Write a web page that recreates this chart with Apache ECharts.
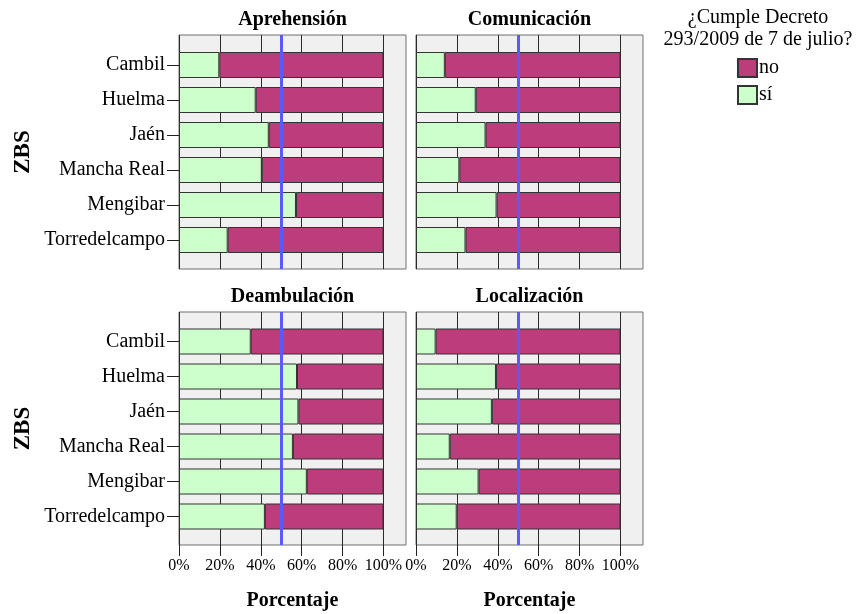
<!DOCTYPE html>
<html><head><meta charset="utf-8">
<script src="https://cdn.jsdelivr.net/npm/echarts@6/dist/echarts.min.js"></script>
<style>html,body{margin:0;padding:0;background:#fff}#c{width:862px;height:614px}</style>
</head><body><div id="c"></div>
<script>
// ---- data ----
const zbs = ['Cambil', 'Huelma', 'Jaén', 'Mancha Real', 'Mengibar', 'Torredelcampo'];
const panelTitles = ['Aprehensión', 'Comunicación', 'Deambulación', 'Localización'];
const siAprehension  = [19.7, 37.5, 43.9, 40.5, 57.2, 23.8];
const noAprehension  = [80.3, 62.5, 56.1, 59.5, 42.8, 76.2];
const siComunicacion = [14.1, 29.2, 34.0, 21.2, 39.4, 24.2];
const noComunicacion = [85.9, 70.8, 66.0, 78.8, 60.6, 75.8];
const siDeambulacion = [35.1, 57.7, 58.4, 55.7, 62.5, 42.0];
const noDeambulacion = [64.9, 42.3, 41.6, 44.3, 37.5, 58.0];
const siLocalizacion = [9.6, 39.1, 37.1, 16.5, 30.6, 19.9];
const noLocalizacion = [90.4, 60.9, 62.9, 83.5, 69.4, 80.1];
const xTickValues = [0, 20, 40, 60, 80, 100];
const threshold = 50;
const legendTitle = '¿Cumple Decreto\n293/2009 de 7 de julio?';
const yTitle = 'ZBS';
const xTitle = 'Porcentaje';

const siData = [siAprehension, siComunicacion, siDeambulacion, siLocalizacion];
const noData = [noAprehension, noComunicacion, noDeambulacion, noLocalizacion];

// ---- layout ----
const panelW = 227;
const panels = [
  {x: 179, y: 35,  h: 234, barTop: 47.5, left: true,  bottom: false},
  {x: 416, y: 35,  h: 234, barTop: 47.5, left: false, bottom: false},
  {x: 179, y: 312, h: 233, barTop: 324,  left: true,  bottom: true},
  {x: 416, y: 312, h: 233, barTop: 324,  left: false, bottom: true}
];
const XMAX = 111;
const serif = 'Liberation Serif';
const pink = '#bb3d7b', green = '#ccffcc', blue = '#5a5aff';

const grid = [], xAxis = [], yAxis = [], series = [], graphic = [];
panels.forEach((p, i) => {
  // background panel grid
  grid.push({left: p.x, top: p.y, width: panelW, height: p.h, show: true,
    backgroundColor: '#f0f0f0', borderColor: '#6e6e6e', borderWidth: 1});
  // bar grid
  grid.push({left: p.x, top: p.barTop, width: panelW, height: 210, show: false});
  const bg = 2 * i, br = 2 * i + 1;
  xAxis.push({gridIndex: bg, type: 'value', min: 0, max: XMAX, interval: 20,
    axisLine: {show: false},
    axisTick: {show: p.bottom, length: 11, customValues: xTickValues, lineStyle: {color: '#222'}},
    axisLabel: {show: p.bottom, customValues: xTickValues, formatter: '{value}%', margin: 13,
      fontFamily: serif, fontSize: 16, color: '#000'},
    splitLine: {show: true, lineStyle: {color: '#2a2a2a', width: 1}}});
  yAxis.push({gridIndex: bg, type: 'value', min: 0, max: 1, show: false});
  xAxis.push({gridIndex: br, type: 'value', min: 0, max: XMAX, show: false});
  yAxis.push({gridIndex: br, type: 'category', data: zbs, inverse: true,
    axisLine: {show: false},
    axisTick: {show: p.left, length: 12, alignWithLabel: true, lineStyle: {color: '#222'}},
    axisLabel: {show: p.left, margin: 14, fontFamily: serif, fontSize: 20, color: '#000'},
    splitLine: {show: false}});
  series.push({type: 'bar', name: 'sí', xAxisIndex: br, yAxisIndex: br, stack: 'p' + i,
    barWidth: 26, data: siData[i], silent: true, z: 3,
    itemStyle: {color: green, borderColor: '#333', borderWidth: 1}});
  series.push({type: 'bar', name: 'no', xAxisIndex: br, yAxisIndex: br, stack: 'p' + i,
    barWidth: 26, data: noData[i], silent: true, z: 3,
    itemStyle: {color: pink, borderColor: '#333', borderWidth: 1}});
  series.push({type: 'line', xAxisIndex: bg, yAxisIndex: bg, data: [], silent: true, z: 6,
    markLine: {symbol: 'none', silent: true, animation: false, label: {show: false},
      lineStyle: {color: blue, width: 3, type: 'solid'}, data: [{xAxis: threshold}]}});
  // panel title
  graphic.push({type: 'text', x: p.x + panelW / 2, y: p.y - 15, z: 10,
    style: {text: panelTitles[i], align: 'center', verticalAlign: 'middle',
      font: 'bold 20px "Liberation Serif"', fill: '#000'}});
  if (p.left) {
    graphic.push({type: 'text', x: 23, y: p.y + p.h / 2, rotation: Math.PI / 2, z: 10,
      style: {text: yTitle, align: 'center', verticalAlign: 'middle',
        font: 'bold 23px "Liberation Serif"', fill: '#000'}});
  }
  if (p.bottom) {
    graphic.push({type: 'text', x: p.x + panelW / 2, y: 601, z: 10,
      style: {text: xTitle, align: 'center', verticalAlign: 'middle',
        font: 'bold 20px "Liberation Serif"', fill: '#000'}});
  }
});
graphic.push({type: 'text', x: 758, y: 29, z: 10,
  style: {text: legendTitle, align: 'center', verticalAlign: 'middle', lineHeight: 22,
    font: '20px "Liberation Serif"', fill: '#000'}});

const chart = echarts.init(document.getElementById('c'), null, {renderer: 'canvas'});
chart.setOption({
  animation: false,
  backgroundColor: '#ffffff',
  grid, xAxis, yAxis, series, graphic,
  legend: {data: ['no', 'sí'], orient: 'vertical', left: 737, top: 58, padding: 0,
    itemWidth: 19, itemHeight: 18, itemGap: 7, icon: 'rect', selectedMode: false,
    textStyle: {fontFamily: serif, fontSize: 20, color: '#000', padding: [0, 0, 0, -3]}}
});
</script></body></html>
